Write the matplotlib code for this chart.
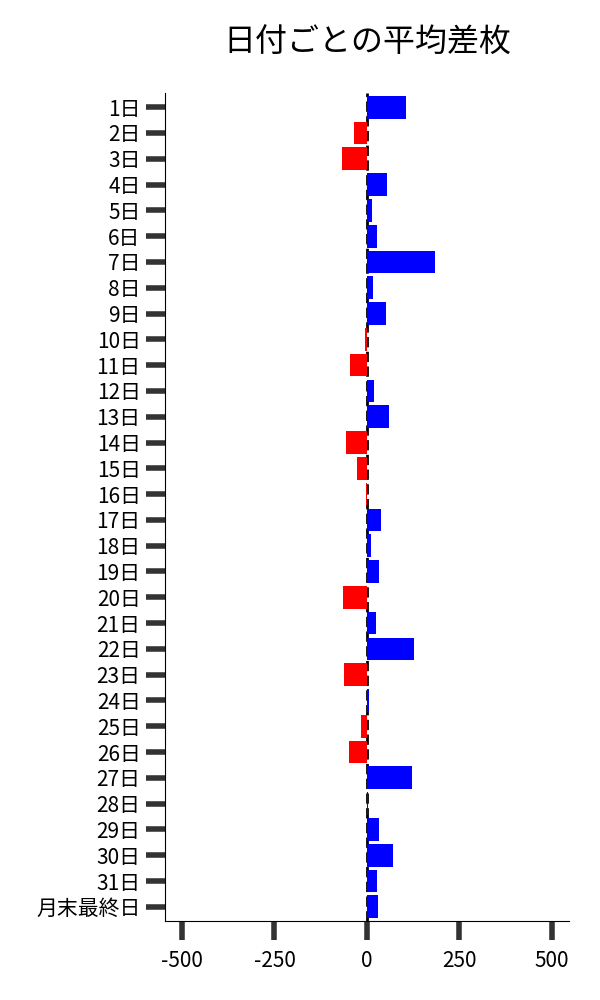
import matplotlib
matplotlib.use("Agg")
import matplotlib.pyplot as plt

plt.rcParams['font.family'] = ['Noto Sans CJK JP', 'DejaVu Sans']

days = [f"{i}日" for i in range(1, 32)] + ["月末最終日"]
avg_diff = [105, -36, -67, 54, 13, 27, 184, 16, 51, -4, -45, 19, 59, -56, -26, -2,
            38, 11, 32, -64, 24, 128, -61, 5, -15, -48, 123, 2, 32, 71, 27, 30]
xticks = [-500, -250, 0, 250, 500]

colors = ['blue' if v >= 0 else 'red' for v in avg_diff]

fig = plt.figure(figsize=(6, 10), dpi=100)
ax = fig.add_axes([0.275, 0.079, 0.673, 0.828])

ax.barh(range(len(days)), avg_diff, height=0.88, color=colors, zorder=2)
ax.axvline(0, color='black', linestyle='--', linewidth=2, zorder=1)

ax.set_yticks(range(len(days)))
ax.set_yticklabels(days)
ax.set_xticks(xticks)
ax.set_xticklabels([str(t) for t in xticks])
ax.set_xlim(-546, 546)
ax.set_ylim(len(days) - 0.5 + 0.05, -0.5 - 0.05)

ax.tick_params(axis='both', colors='#333333', width=4, length=14, labelsize=15,
               labelcolor='black')
ax.tick_params(axis='x', pad=7)
ax.spines['top'].set_visible(False)
ax.spines['right'].set_visible(False)

ax.set_title("日付ごとの平均差枚", fontsize=23, pad=30)

fig.savefig("out.png")
